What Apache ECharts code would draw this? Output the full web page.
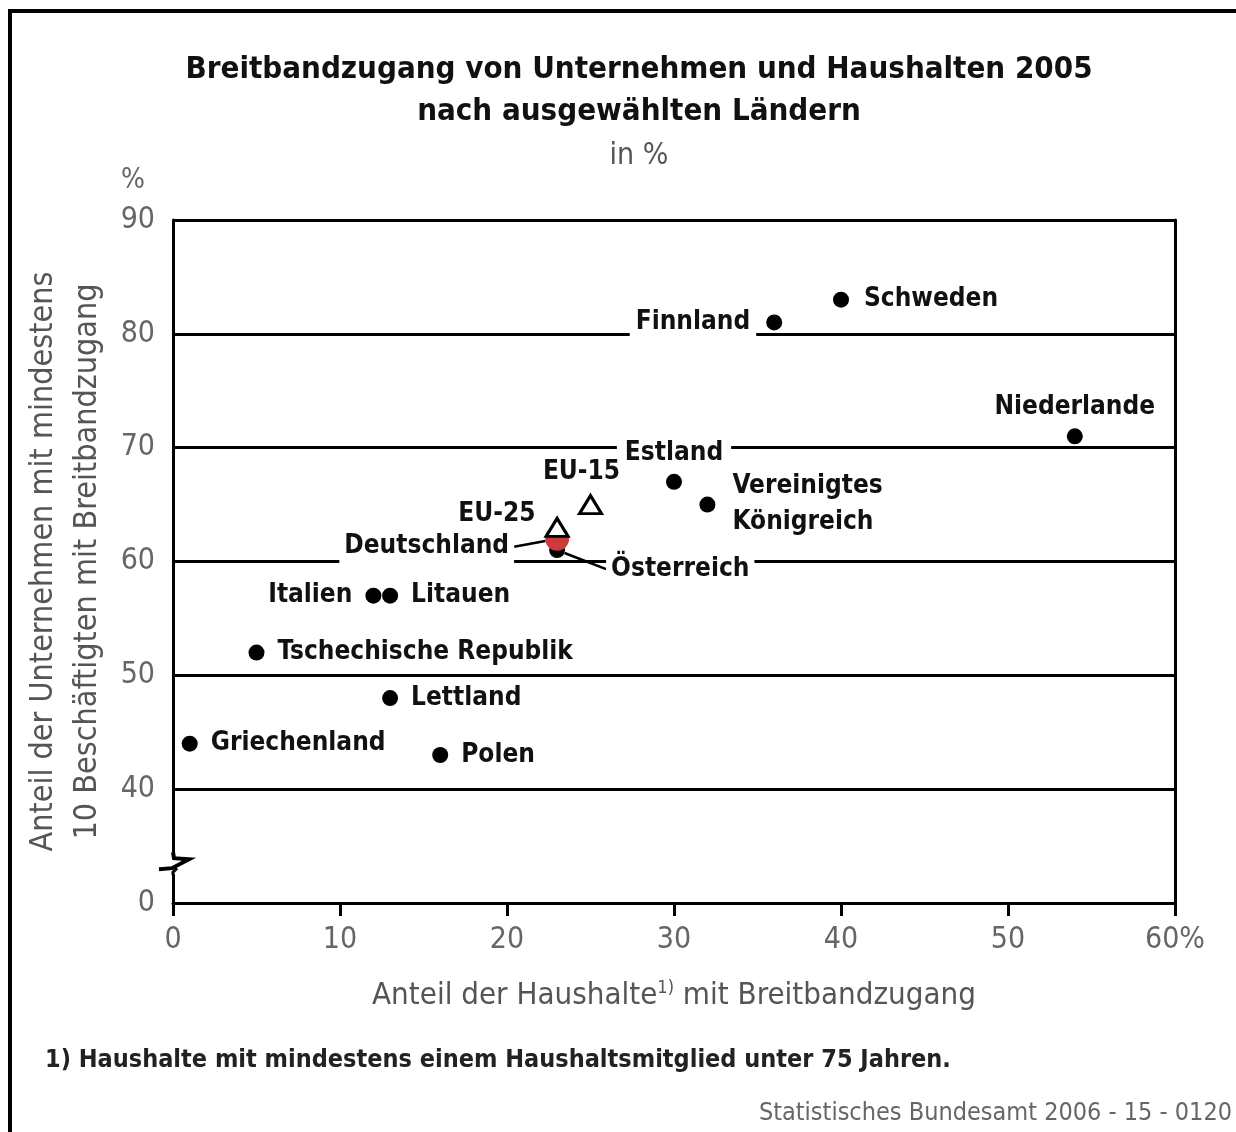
<!DOCTYPE html>
<html>
<head>
<meta charset="utf-8">
<script src="https://cdn.jsdelivr.net/npm/echarts@6/dist/echarts.min.js"></script>
<style>
  html, body { margin: 0; padding: 0; background: #fff; }
  #frame {
    position: absolute; left: 8px; top: 9px; width: 1300px; height: 1200px;
    border-top: 4px solid #000; border-left: 4px solid #000;
  }
  #chart { position: absolute; left: 0; top: 0; width: 1236px; height: 1132px; }
</style>
</head>
<body>
<div id="frame"></div>
<div id="chart"></div>
<script>
const FONT = '"Liberation Sans Narrow", "DejaVu Sans Condensed", sans-serif';

// Länder: Anteil Haushalte (x) und Unternehmen (y) mit Breitbandzugang, %
const countries = ["Schweden", "Finnland", "Niederlande", "Estland", "Vereinigtes\nKönigreich",
  "Österreich", "Deutschland", "Italien", "Litauen", "Tschechische Republik",
  "Lettland", "Griechenland", "Polen"];
const households = [40, 36, 54, 30, 32, 23, 23, 12, 13, 5, 13, 1, 16];
const enterprises = [83, 81, 71, 67, 65, 61, 62, 57, 57, 52, 48, 44, 43];

// EU-Durchschnitte
const aggregates = ["EU-15", "EU-25"];
const aggHouseholds = [25, 23];
const aggEnterprises = [65, 63];

const xTicks = [0, 10, 20, 30, 40, 50, 60];
const yTicks = [30, 40, 50, 60, 70, 80, 90]; // 30 is shown as "0" (axis break)

// label placement per name
const labelOpts = {
  "Schweden": { position: "right", distance: 10 },
  "Finnland": { position: "left", distance: 10, padding: [4, 6, 6, 6] },
  "Niederlande": { position: "top", distance: 5 },
  "Estland": { position: "top", distance: 5, offset: [-7, 0], padding: [3, 8] },
  "Vereinigtes\nKönigreich": { position: "right", distance: 12, lineHeight: 36 },
  "Österreich": { position: "right", distance: 5 },
  "Deutschland": { position: "left", distance: 5, padding: [3, 5, 8, 5] },
  "Italien": { position: "left", distance: 8 },
  "Litauen": { position: "right", distance: 8 },
  "EU-15": { position: "top", distance: 6, offset: [-9, 0] },
  "EU-25": { position: "left", distance: 4, offset: [0, -13] }
};
const moved = {
  "Deutschland": { dx: -26, dy: 8 },
  "Österreich": { dx: 36, dy: 19 }
};

const labelBase = {
  show: true,
  fontFamily: FONT,
  fontWeight: "bold",
  fontSize: 26,
  color: "#111",
  backgroundColor: "#fff",
  padding: [3, 5],
  position: "right",
  distance: 8
};

function pointData(names, xs, ys) {
  return names.map((n, i) => {
    const item = {
      name: n,
      value: [xs[i], ys[i]],
      label: Object.assign({ formatter: n }, labelOpts[n] || {})
    };
    if (n === "Deutschland") {
      item.itemStyle = { color: "#cc3a40", opacity: 1 };
      item.symbolSize = 24;
      item.z = 5;
    }
    if (moved[n]) {
      item.labelLine = { show: true, lineStyle: { color: "#000", width: 2.5, opacity: 1 } };
    }
    return item;
  });
}

const chart = echarts.init(document.getElementById("chart"));

chart.setOption({
  animation: false,
  textStyle: { fontFamily: FONT },
  title: {
    text: "Breitbandzugang von Unternehmen und Haushalten 2005\nnach ausgewählten Ländern",
    subtext: "in %",
    left: 634,
    top: 44,
    textAlign: "center",
    textStyle: { fontFamily: FONT, fontWeight: "bold", fontSize: 31, lineHeight: 42, color: "#111" },
    subtextStyle: { fontFamily: FONT, fontSize: 30, lineHeight: 30, color: "#555" },
    itemGap: 8
  },
  grid: { left: 173, right: 61, top: 220, bottom: 229 },
  xAxis: {
    type: "value",
    min: xTicks[0],
    max: xTicks[xTicks.length - 1],
    interval: 10,
    name: "Anteil der Haushalte{sup|1)} mit Breitbandzugang",
    nameLocation: "middle",
    nameGap: 76,
    nameTextStyle: {
      fontFamily: FONT, fontSize: 31, color: "#555",
      rich: { sup: { fontFamily: FONT, fontSize: 18, color: "#555", verticalAlign: "top", padding: [0, 0, 16, 0] } }
    },
    axisLine: { show: true, lineStyle: { color: "#000", width: 3 } },
    axisTick: { show: true, length: 13, lineStyle: { color: "#000", width: 3 } },
    axisLabel: {
      color: "#666", fontSize: 30, margin: 22, fontFamily: FONT,
      formatter: v => (v === 60 ? "60%" : String(v))
    },
    splitLine: { show: false }
  },
  yAxis: [{
    type: "value",
    min: yTicks[0],
    max: yTicks[yTicks.length - 1],
    interval: 10,
    name: "Anteil der Unternehmen mit mindestens\n10 Beschäftigten mit Breitbandzugang",
    nameLocation: "middle",
    nameRotate: 90,
    nameGap: 53,
    nameTextStyle: { fontFamily: FONT, fontSize: 32, lineHeight: 44, color: "#555" },
    axisLine: { show: true, lineStyle: { color: "#000", width: 3 } },
    axisTick: { show: false },
    axisLabel: {
      color: "#666", fontSize: 30, margin: 18, fontFamily: FONT,
      formatter: v => (v === 30 ? "0" : String(v))
    },
    splitLine: { show: true, lineStyle: { color: "#000", width: 3 } }
  }, {
    type: "value",
    position: "right",
    min: yTicks[0],
    max: yTicks[yTicks.length - 1],
    interval: 10,
    axisLine: { show: true, lineStyle: { color: "#000", width: 3 } },
    axisTick: { show: false },
    axisLabel: { show: false },
    splitLine: { show: false }
  }],
  series: [{
    type: "scatter",
    name: "Länder",
    symbol: "circle",
    symbolSize: 16,
    itemStyle: { color: "#000", opacity: 1 },
    label: labelBase,
    labelLayout: p => {
      const n = countries[p.dataIndex];
      return moved[n] || {};
    },
    data: pointData(countries, households, enterprises),
    z: 3
  }, {
    type: "scatter",
    name: "EU",
    symbol: "triangle",
    symbolSize: [22, 18],
    itemStyle: { color: "#fff", borderColor: "#000", borderWidth: 3, opacity: 1 },
    label: labelBase,
    data: pointData(aggregates, aggHouseholds, aggEnterprises),
    z: 6
  }]
});

// texts around the plot and the axis-break symbol on the y-axis between 0 and 40
const p = chart.convertToPixel({ xAxisIndex: 0, yAxisIndex: 0 }, [0, 33.5]);
const x0 = p[0], yc = p[1];
chart.setOption({
  graphic: [{
    id: "pct", type: "text",
    left: 121, top: 167,
    style: { text: "%", fontFamily: FONT, fontSize: 28, fill: "#666" }
  }, {
    id: "foot", type: "text",
    left: 45, top: 1048,
    style: { text: "1) Haushalte mit mindestens einem Haushaltsmitglied unter 75 Jahren.", fontFamily: FONT, fontSize: 25, fontWeight: "bold", fill: "#222" }
  }, {
    id: "src", type: "text",
    right: 4, top: 1101,
    style: { text: "Statistisches Bundesamt 2006 - 15 - 0120", fontFamily: FONT, fontSize: 25, fill: "#666" }
  }, {
    id: "brkBg", type: "rect", z: 100,
    shape: { x: x0 - 4, y: yc - 11, width: 8, height: 22 },
    style: { fill: "#fff" }
  }, {
    id: "brk1", type: "polyline", z: 101,
    shape: { points: [[x0, yc - 11], [x0 + 1, yc - 5], [x0 + 16, yc - 4], [x0 - 1, yc + 5], [x0 - 14, yc + 6]] },
    style: { stroke: "#000", lineWidth: 4, fill: null, lineJoin: "miter" }
  }, {
    id: "brk2", type: "polyline", z: 101,
    shape: { points: [[x0 + 4, yc + 5], [x0, yc + 9], [x0, yc + 12]] },
    style: { stroke: "#000", lineWidth: 3, fill: null }
  }]
});

window.addEventListener("resize", () => chart.resize());
</script>
</body>
</html>
